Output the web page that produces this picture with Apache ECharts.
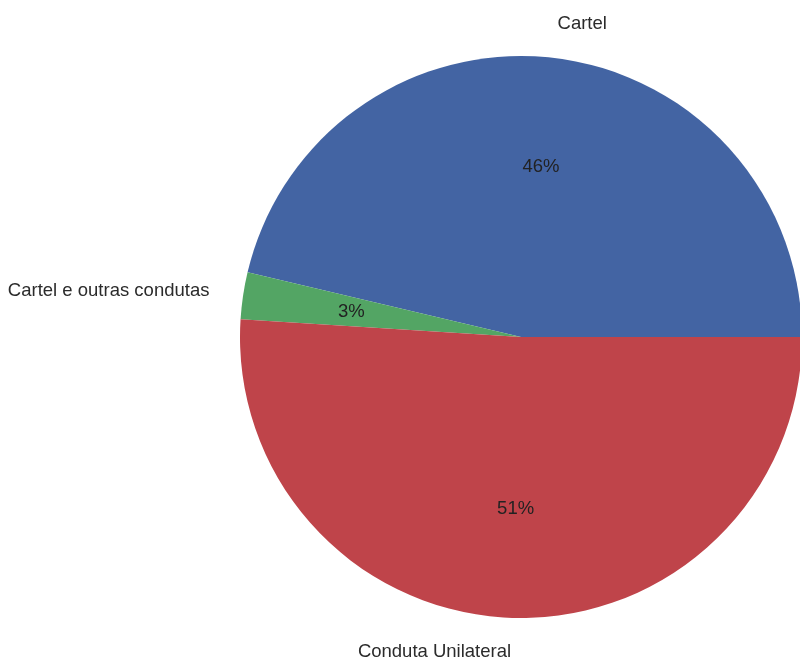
<!DOCTYPE html>
<html>
<head>
<meta charset="utf-8">
<script src="https://cdn.jsdelivr.net/npm/echarts@6/dist/echarts.min.js"></script>
<style>
  html, body { margin: 0; padding: 0; background: #fff; }
  #chart { width: 800px; height: 659px; }
</style>
</head>
<body>
<div id="chart"></div>
<script>
const categories = ['Cartel', 'Cartel e outras condutas', 'Conduta Unilateral'];
const values = [46.3, 2.7, 51.0];
const colors = ['#4364a3', '#53a564', '#bf444a'];

const R = 281;
const center = [521, 337];
const font = { fontFamily: 'Liberation Sans', fontSize: 18.5, color: '#2b2b2b' };

const data = categories.map((name, i) => ({
  name, value: values[i], itemStyle: { color: colors[i] }
}));

const myChart = echarts.init(document.getElementById('chart'));
myChart.setOption({
  animation: false,
  series: [
    {
      // slices with outer name labels
      type: 'pie',
      center: center,
      radius: [0, R],
      startAngle: 0,
      clockwise: false,
      avoidLabelOverlap: false,
      silent: true,
      data: data,
      label: {
        show: true,
        position: 'outside',
        formatter: '{b}',
        distanceToLabelLine: 0,
        ...font
      },
      labelLine: { show: false, length: 34, length2: 0 },
      itemStyle: { borderWidth: 0 }
    },
    {
      // invisible ring to put the percentages at 0.6 R
      type: 'pie',
      center: center,
      radius: [R * 0.2, R],
      startAngle: 0,
      clockwise: false,
      avoidLabelOverlap: false,
      silent: true,
      data: categories.map((name, i) => ({ name, value: values[i] })),
      itemStyle: { color: 'rgba(0,0,0,0)', borderWidth: 0 },
      label: {
        show: true,
        position: 'inside',
        formatter: p => Math.round(p.value) + '%',
        ...font,
        color: '#222'
      },
      labelLine: { show: false }
    }
  ]
});
</script>
</body>
</html>
